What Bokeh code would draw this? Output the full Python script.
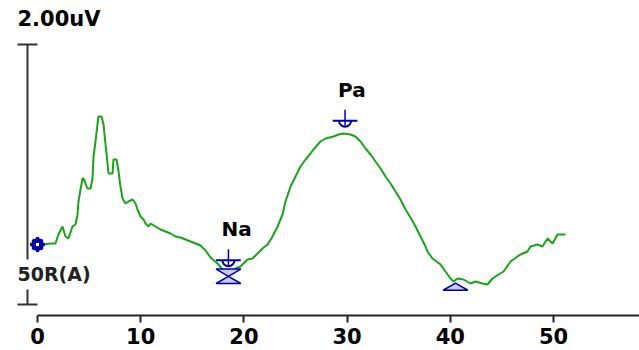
import numpy as np
from bokeh.plotting import figure
from bokeh.models import Range1d, FixedTicker
from bokeh.core.properties import value
from bokeh.embed import file_html
from bokeh.resources import INLINE

# ---------------- data ----------------
latency_ms = [
    0, 0.58, 1.26, 1.74, 2.03, 2.42, 2.71, 3.00, 3.39, 3.68,
    3.88, 3.97, 4.17, 4.36, 4.46, 4.84, 5.14, 5.33, 5.43, 5.62,
    5.81, 5.91, 6.20, 6.40, 6.49, 6.69, 6.88, 7.27, 7.36, 7.66,
    7.85, 8.04, 8.24, 8.53, 8.82, 9.21, 9.50, 9.69, 9.98, 10.27,
    10.47, 10.76, 10.95, 11.43, 11.92, 12.40, 12.89, 13.37, 13.86, 14.34,
    14.83, 15.31, 15.79, 16.28, 16.76, 17.44, 17.93, 18.41, 18.90, 19.19,
    19.67, 20.35, 20.83, 21.32, 21.80, 22.29, 22.77, 23.26, 23.74, 24.03,
    24.52, 25.00, 25.48, 25.97, 26.45, 26.74, 27.42, 27.91, 28.68, 29.17,
    29.65, 30.33, 30.81, 31.30, 31.78, 32.27, 32.75, 33.24, 33.72, 34.21,
    34.69, 35.17, 35.66, 36.14, 36.63, 37.11, 37.60, 37.79, 38.27, 39.05,
    39.53, 40.02, 40.31, 40.70, 41.28, 41.96, 42.44, 43.12, 43.60, 44.09,
    44.67, 45.16, 45.83, 46.80, 47.48, 47.77, 48.45, 48.93, 49.42, 49.90,
    50.39, 51.16,
]
amplitude_uv = [
    0, 0.00, 0.01, 0.01, 0.10, 0.18, 0.08, 0.06, 0.18, 0.20,
    0.30, 0.43, 0.55, 0.66, 0.66, 0.56, 0.56, 0.66, 0.88, 1.03,
    1.20, 1.28, 1.28, 1.20, 1.10, 0.91, 0.71, 0.71, 0.85, 0.85,
    0.73, 0.58, 0.46, 0.41, 0.43, 0.45, 0.41, 0.35, 0.28, 0.25,
    0.21, 0.18, 0.21, 0.18, 0.15, 0.13, 0.11, 0.08, 0.07, 0.05,
    0.03, 0.01, -0.01, -0.06, -0.13, -0.19, -0.25, -0.29, -0.28, -0.24,
    -0.22, -0.15, -0.14, -0.09, -0.04, 0.00, 0.08, 0.18, 0.30, 0.43,
    0.58, 0.68, 0.78, 0.85, 0.91, 0.95, 1.03, 1.06, 1.08, 1.10,
    1.11, 1.10, 1.08, 1.03, 0.96, 0.90, 0.83, 0.76, 0.68, 0.61,
    0.53, 0.45, 0.35, 0.27, 0.18, 0.08, -0.02, -0.07, -0.14, -0.20,
    -0.27, -0.34, -0.37, -0.34, -0.35, -0.39, -0.37, -0.39, -0.40, -0.34,
    -0.30, -0.27, -0.17, -0.10, -0.07, -0.02, 0.00, -0.02, 0.06, 0.01,
    0.10, 0.10,
]
x_ticks = [0, 10, 20, 30, 40, 50]

peak_names = ["Na", "Pa"]
peak_latency = [18.5, 29.8]
trough_latency = [18.5, 40.5]
hourglass_latency = [18.5]

scale_label = "2.00uV"
channel_label = "50R(A)"
scale_top_uv = 2.0
scale_bottom_uv = -0.6

# ---------------- styling / layout ----------------
W, H = 639, 350
X0, X1 = -3.585, 58.33
Y0, Y1 = -0.71, 2.44
GREEN = "#1BA31B"
NAVY = "#0000A0"
AXIS = "#222222"
FONT = value("DejaVu Sans")

CAL_X = -0.97
CAL_HALF = 0.97
CAL_GAP_TOP = -0.15
CAL_GAP_BOT = -0.45
LABEL_X = -1.94
MK_HALF = 1.2       # half width of markers (ms)
MK_UP = 0.13        # upper marker bar above the trace (uV)
TRI_OFF = 0.03
TRI_H = 0.072

p = figure(width=W, height=H, x_range=Range1d(X0, X1), y_range=Range1d(Y0, Y1),
           output_backend="svg", toolbar_location=None, y_axis_location=None,
           min_border_left=0, min_border_right=0, min_border_top=0, min_border_bottom=35)
p.grid.visible = False
p.outline_line_color = None
p.background_fill_color = "white"
p.border_fill_color = "white"

ax = p.xaxis[0]
ax.ticker = FixedTicker(ticks=x_ticks)
ax.bounds = (0, X1)
ax.axis_line_color = AXIS
ax.axis_line_width = 2
ax.major_tick_line_color = AXIS
ax.major_tick_line_width = 2
ax.major_tick_out = 7
ax.major_tick_in = 0
ax.minor_tick_out = 0
ax.minor_tick_in = 0
ax.major_label_standoff = 5
ax.major_label_text_font = "DejaVu Sans"
ax.major_label_text_font_style = "bold"
ax.major_label_text_font_size = "21px"
ax.major_label_text_color = "#000000"

# trace
p.line(latency_ms, amplitude_uv, line_color=GREEN, line_width=2)

# calibration bar
p.segment(x0=[CAL_X - CAL_HALF, CAL_X, CAL_X - CAL_HALF, CAL_X],
          y0=[scale_top_uv, scale_top_uv, scale_bottom_uv, scale_bottom_uv],
          x1=[CAL_X + CAL_HALF, CAL_X, CAL_X + CAL_HALF, CAL_X],
          y1=[scale_top_uv, CAL_GAP_TOP, scale_bottom_uv, CAL_GAP_BOT],
          line_color="#333333", line_width=2)
p.text(x=[LABEL_X], y=[2.26], text=[scale_label], text_font=FONT, text_font_style="bold",
       text_font_size="21px", text_baseline="alphabetic", text_align="left", text_color="#000000")
p.text(x=[LABEL_X], y=[-0.29], text=[channel_label], text_font=FONT, text_font_style="bold",
       text_font_size="19px", text_baseline="alphabetic", text_align="left", text_color="#222222")

# start marker at origin
p.scatter([latency_ms[0]], [amplitude_uv[0]], marker="circle", size=12, fill_color=NAVY, line_color=NAVY)
p.scatter([latency_ms[0]], [amplitude_uv[0]], marker="cross", size=15, line_color=NAVY, line_width=3)
p.scatter([latency_ms[0]], [amplitude_uv[0]], marker="x", size=14, line_color=NAVY, line_width=3)
p.scatter([latency_ms[0]], [amplitude_uv[0]], marker="square", size=3, fill_color="white", line_color=None)

# upper (peak) markers with labels
pk_amp = np.interp(peak_latency, latency_ms, amplitude_uv)
bar = pk_amp + MK_UP
px = np.array(peak_latency)
p.segment(x0=px, y0=bar - 0.05, x1=px, y1=bar + 0.11, line_color=NAVY, line_width=1.5)
p.segment(x0=px - MK_HALF, y0=bar, x1=px + MK_HALF, y1=bar, line_color=NAVY, line_width=2)
p.arc(x=px, y=bar, radius=6, radius_units="screen", start_angle=np.pi, end_angle=2 * np.pi,
      line_color=NAVY, line_width=2)
p.text(x=px, y=bar, text=peak_names, x_offset=-7, y_offset=-31, text_font=FONT,
       text_font_style="bold", text_font_size="20px", text_baseline="alphabetic",
       text_align="left", text_color="#000000")

# lower (trough) markers
tr = np.array(trough_latency)
tc = np.interp(trough_latency, latency_ms, amplitude_uv) - TRI_OFF
p.patches(xs=[[t, t + MK_HALF, t - MK_HALF] for t in tr],
          ys=[[c, c - TRI_H, c - TRI_H] for c in tc],
          fill_color="#C8C8F4", line_color=NAVY, line_width=1.5)
hc = np.interp(hourglass_latency, latency_ms, amplitude_uv) - TRI_OFF
p.patches(xs=[[t - MK_HALF, t + MK_HALF, t] for t in hourglass_latency],
          ys=[[c + TRI_H, c + TRI_H, c] for c in hc],
          fill_color="#C8C8F4", line_color=NAVY, line_width=1.5)

open("out.html", "w").write(file_html(p, INLINE))
